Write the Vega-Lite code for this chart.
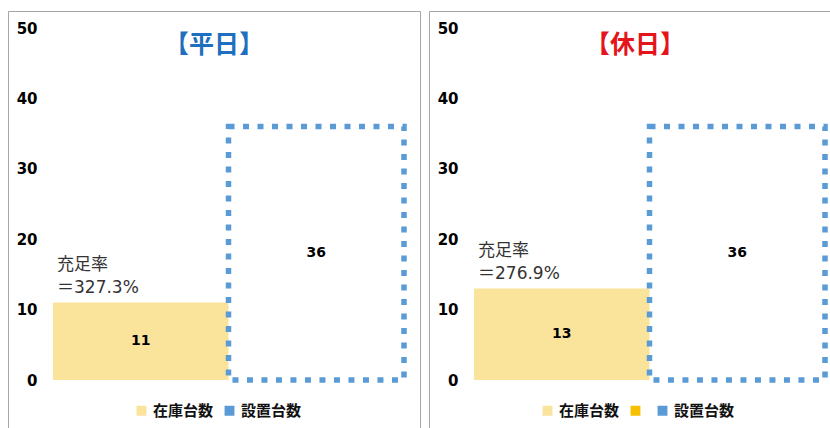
{
  "$schema": "https://vega.github.io/schema/vega-lite/v6.json",
  "padding": {"left": 7, "top": 10, "right": 0, "bottom": 0},
  "spacing": 7,
  "background": "white",
  "config": {
    "view": {"stroke": "#A6A6A6", "strokeWidth": 1},
    "axis": {"labelFont": "DejaVu Sans", "labelFontSize": 15, "labelFontWeight": "bold", "labelColor": "#000000"},
    "legend": {"labelFont": "Noto Sans CJK JP", "labelFontSize": 15, "labelFontWeight": "bold", "labelColor": "#111111", "symbolType": "square", "symbolSize": 70, "columnPadding": 8, "labelOffset": 4, "direction": "horizontal", "orient": "none"}
  },
  "datasets": {
    "heijitsu": [
      {"series": "在庫台数", "value": 11, "note": "充足率\n＝327.3%"},
      {"series": "設置台数", "value": 36, "note": ""}
    ],
    "kyujitsu": [
      {"series": "在庫台数", "value": 13, "note": "充足率\n＝276.9%"},
      {"series": "設置台数", "value": 36, "note": ""}
    ]
  },
  "hconcat": [
    {
      "width": 412,
      "height": 420,
      "title": {"text": "【平日】", "color": "#1F6FC0", "font": "Noto Sans CJK JP", "fontSize": 25, "fontWeight": "bold", "anchor": "middle", "offset": -47},
      "data": {"name": "heijitsu"},
      "encoding": {
        "x": {"field": "series", "type": "nominal", "axis": null, "scale": {"domain": ["在庫台数", "設置台数"], "range": [45, 396], "paddingInner": 0, "paddingOuter": 0}}
      },
      "layer": [
        {
          "transform": [{"filter": "datum.series === '在庫台数'"}],
          "mark": {"type": "bar"},
          "encoding": {
            "y": {"field": "value", "type": "quantitative", "scale": {"domain": [-7.24, 52.415], "nice": false, "zero": false}, "axis": {"values": [0, 10, 20, 30, 40, 50], "offset": -31, "domain": false, "ticks": false, "grid": false, "labelPadding": 2, "title": null}},
            "color": {"field": "series", "type": "nominal", "scale": {"domain": ["在庫台数", "設置台数"], "range": ["#FAE49C", "#5B9BD5"]}, "legend": {"title": null, "orient": "none", "legendX": 126, "legendY": 392}}
          }
        },
        {
          "transform": [{"filter": "datum.series === '設置台数'"}],
          "mark": {"type": "bar", "filled": false, "strokeWidth": 5.5, "strokeDash": [6, 8.5]},
          "encoding": {
            "y": {"field": "value", "type": "quantitative", "scale": {"domain": [-7.24, 52.415], "nice": false, "zero": false}, "axis": null},
            "color": {"field": "series", "type": "nominal"}
          }
        },
        {
          "mark": {"type": "text", "font": "DejaVu Sans", "fontWeight": "bold", "fontSize": 14, "color": "#000000", "baseline": "middle"},
          "encoding": {
            "y": {"field": "value", "type": "quantitative", "scale": {"domain": [-14.48, 104.83], "nice": false, "zero": false}, "axis": null},
            "text": {"field": "value", "type": "quantitative"}
          }
        },
        {
          "transform": [{"filter": "datum.series === '在庫台数'"}],
          "mark": {"type": "text", "font": "DejaVu Sans, Noto Sans CJK JP", "fontSize": 17, "color": "#333333", "align": "left", "baseline": "bottom", "lineBreak": "\n", "lineHeight": 23, "dx": 4, "dy": -29},
          "encoding": {
            "x": {"field": "series", "type": "nominal", "bandPosition": 0},
            "y": {"field": "value", "type": "quantitative", "scale": {"domain": [-7.24, 52.415], "nice": false, "zero": false}, "axis": null},
            "text": {"field": "note"}
          }
        }
      ],
      "resolve": {"scale": {"y": "independent"}}
    },
    {
      "width": 412,
      "height": 420,
      "title": {"text": "【休日】", "color": "#E5141B", "font": "Noto Sans CJK JP", "fontSize": 25, "fontWeight": "bold", "anchor": "middle", "offset": -47},
      "data": {"name": "kyujitsu"},
      "encoding": {
        "x": {"field": "series", "type": "nominal", "axis": null, "scale": {"domain": ["在庫台数", "設置台数"], "range": [45, 396], "paddingInner": 0, "paddingOuter": 0}}
      },
      "layer": [
        {
          "transform": [{"filter": "datum.series === '在庫台数'"}],
          "mark": {"type": "bar"},
          "encoding": {
            "y": {"field": "value", "type": "quantitative", "scale": {"domain": [-7.24, 52.415], "nice": false, "zero": false}, "axis": {"values": [0, 10, 20, 30, 40, 50], "offset": -31, "domain": false, "ticks": false, "grid": false, "labelPadding": 2, "title": null}},
            "color": {"field": "series", "type": "nominal", "scale": {"domain": ["在庫台数", " ", "設置台数"], "range": ["#FAE49C", "#F7C000", "#5B9BD5"]}, "legend": {"title": null, "orient": "none", "legendX": 111, "legendY": 392}}
          }
        },
        {
          "transform": [{"filter": "datum.series === '設置台数'"}],
          "mark": {"type": "bar", "filled": false, "strokeWidth": 5.5, "strokeDash": [6, 8.5]},
          "encoding": {
            "y": {"field": "value", "type": "quantitative", "scale": {"domain": [-7.24, 52.415], "nice": false, "zero": false}, "axis": null},
            "color": {"field": "series", "type": "nominal"}
          }
        },
        {
          "mark": {"type": "text", "font": "DejaVu Sans", "fontWeight": "bold", "fontSize": 14, "color": "#000000", "baseline": "middle"},
          "encoding": {
            "y": {"field": "value", "type": "quantitative", "scale": {"domain": [-14.48, 104.83], "nice": false, "zero": false}, "axis": null},
            "text": {"field": "value", "type": "quantitative"}
          }
        },
        {
          "transform": [{"filter": "datum.series === '在庫台数'"}],
          "mark": {"type": "text", "font": "DejaVu Sans, Noto Sans CJK JP", "fontSize": 17, "color": "#333333", "align": "left", "baseline": "bottom", "lineBreak": "\n", "lineHeight": 23, "dx": 4, "dy": -29},
          "encoding": {
            "x": {"field": "series", "type": "nominal", "bandPosition": 0},
            "y": {"field": "value", "type": "quantitative", "scale": {"domain": [-7.24, 52.415], "nice": false, "zero": false}, "axis": null},
            "text": {"field": "note"}
          }
        }
      ],
      "resolve": {"scale": {"y": "independent"}}
    }
  ],
  "resolve": {"scale": {"color": "independent", "x": "independent", "y": "independent"}, "legend": {"color": "independent"}}
}
